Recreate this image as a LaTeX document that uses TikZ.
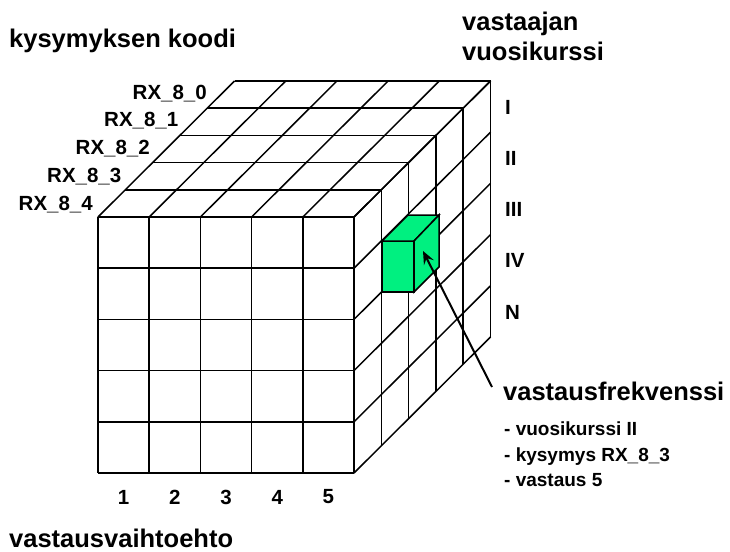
\documentclass[tikz,border=0pt]{standalone}
\usepackage{fontspec}
\setmainfont{Liberation Sans}
\usepackage{xcolor}
\usepackage{tikz}
\usetikzlibrary{positioning, arrows.meta, calc}
\definecolor{cubegreen}{RGB}{0,240,128}

\begin{document}
\begin{tikzpicture}[x=1pt, y=-1pt, gridline/.style={line width=1.5pt, black},
  biglabel/.style={inner sep=0pt, font=\fontsize{25.5}{30}\selectfont\bfseries},
  smalllabel/.style={inner sep=0pt, font=\fontsize{20.5}{24}\selectfont\bfseries},
  notelabel/.style={inner sep=0pt, font=\fontsize{19}{24}\selectfont\bfseries}]
\useasboundingbox (0,0) rectangle (730,551);
% front face
\foreach \i in {0,...,5} {
  \draw[gridline] (98+51.2*\i,217) -- ++(0,256);
  \draw[gridline] (98,217+51.2*\i) -- ++(256,0);
}
% top face
\foreach \k in {1,...,5} \draw[gridline] (98+27.3*\k,217-27.2*\k) -- ++(256,0);
\foreach \i in {0,...,5} \draw[gridline] (98+51.2*\i,217) -- ++(136.5,-136);
% right face
\foreach \k in {1,...,5} \draw[gridline] (354+27.3*\k,217-27.2*\k) -- ++(0,256);
\foreach \j in {0,...,5} \draw[gridline] (354,217+51.2*\j) -- ++(136.5,-136);
% green cell
\filldraw[gridline, fill=cubegreen] (382,241) rectangle (414,292);
\filldraw[gridline, fill=cubegreen] (382,241) -- (408,215) -- (439,215) -- (414,241) -- cycle;
\filldraw[gridline, fill=cubegreen] (414,241) -- (439,215) -- (439,267) -- (414,292) -- cycle;
\coordinate (hit) at (423,251);
% axis titles
\node[biglabel, anchor=base west] (qcode) at (9,48) {kysymyksen koodi};
\node[biglabel, anchor=base west, align=left] (year) at (462,60) {vastaajan\\vuosikurssi};
\node[biglabel, anchor=base west] (answ) at (9,547) {vastausvaihtoehto};
% question codes
\foreach \k in {0,...,4}
  \node[smalllabel, anchor=base east] (rx\k) at (207-28.5*\k,99+27.8*\k) {RX\_8\_\k};
% year of study
\foreach \r [count=\j from 0] in {I,II,III,IV,N}
  \node[smalllabel, anchor=west] (yr\j) at (505,107+51.3*\j) {\r};
% answer options
\foreach \i in {1,...,5}
  \node[smalllabel] (opt\i) at (123.6+51.2*\i-51.2,497) {\i};
% frequency note
\node[biglabel, anchor=base west] (freq) at (503,400) {vastausfrekvenssi};
\node[notelabel, anchor=base west] (n1) at (504,435) {- vuosikurssi II};
\node[notelabel, anchor=base west] (n2) at (504,461) {- kysymys RX\_8\_3};
\node[notelabel, anchor=base west] (n3) at (504,486) {- vastaus 5};
\coordinate (tail) at (492,387);
\draw[line width=2pt, -{Stealth[length=13pt, width=11pt, inset=5pt]}] (tail) -- (hit);
\end{tikzpicture}
\end{document}
